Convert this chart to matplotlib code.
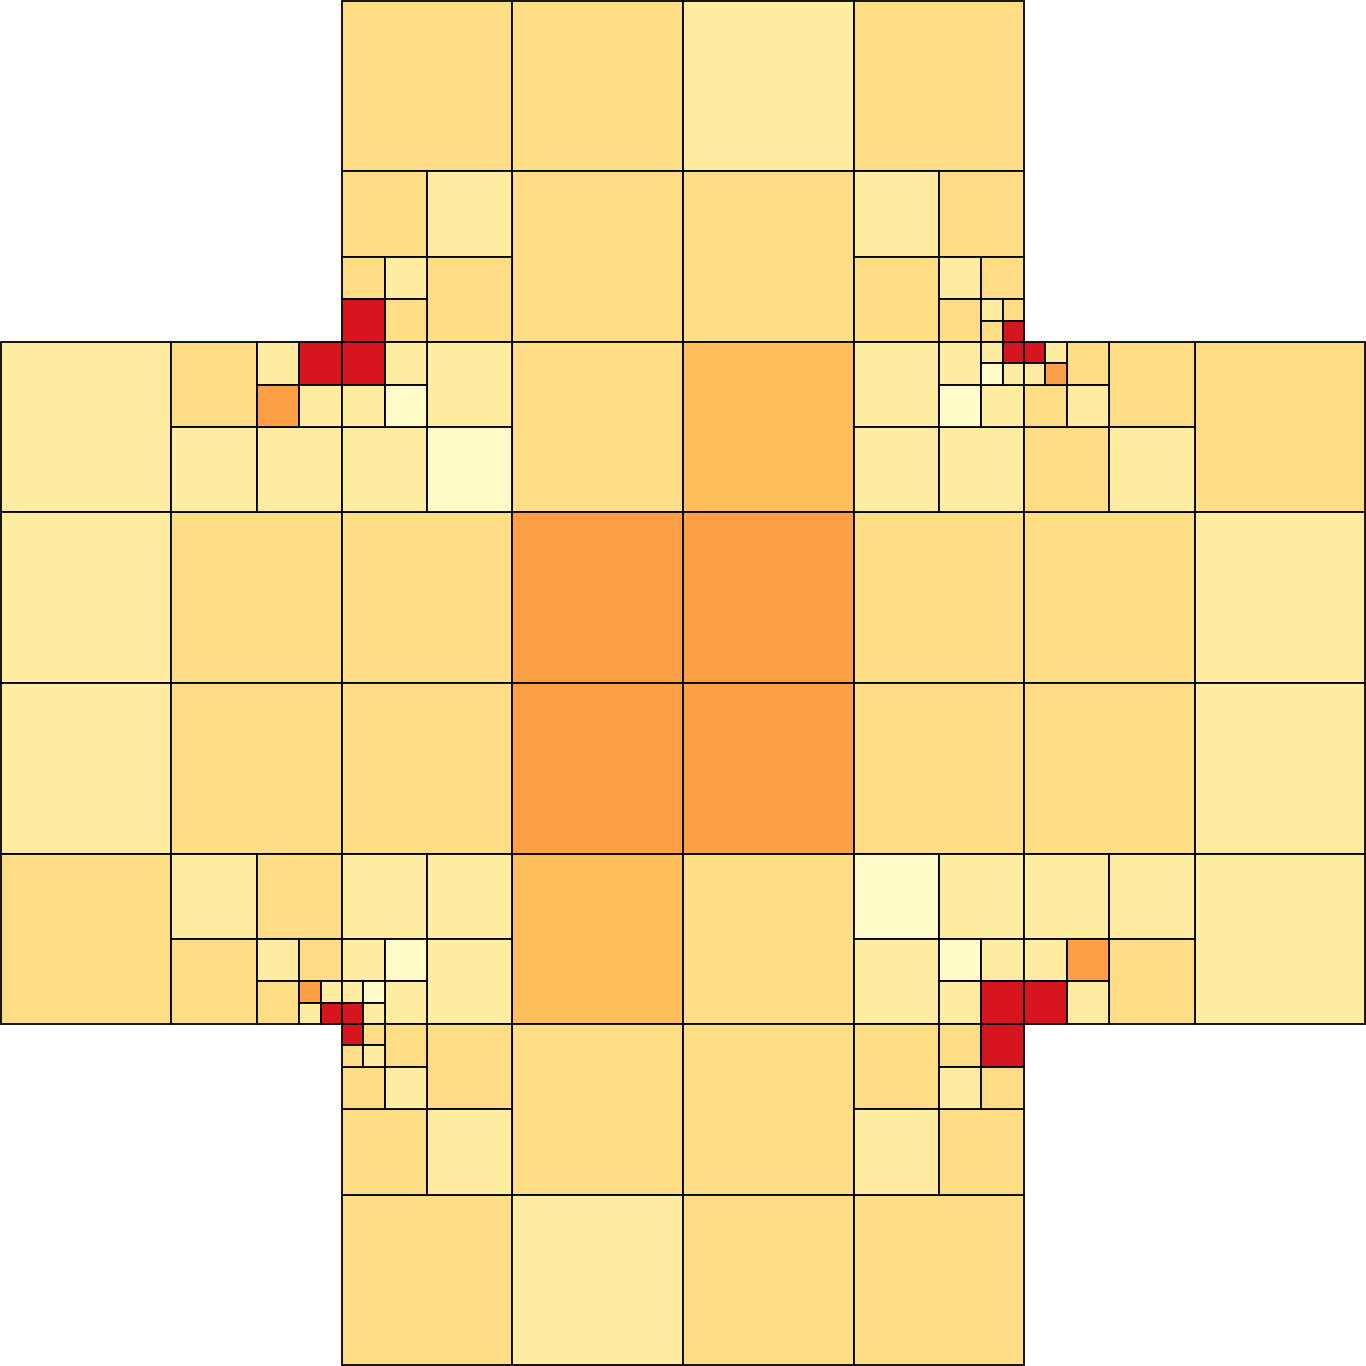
import matplotlib
matplotlib.use("Agg")
import matplotlib.pyplot as plt
from matplotlib.patches import Rectangle
from matplotlib.colors import ListedColormap

# error level colours (low -> high)
level_colors = ["#fffbc8", "#feeda1", "#fedd84", "#febe5b", "#fd9f45", "#d7151f"]
cmap = ListedColormap(level_colors)

# coarse 8x8 grid (row 0 = top); None = outside domain or refined further
coarse_levels = [
    [None, None, 2, 2, 1, 2, None, None],
    [None, None, None, 2, 2, None, None, None],
    [1, None, None, 2, 3, None, None, 2],
    [1, 2, 2, 4, 4, 2, 2, 1],
    [1, 2, 2, 4, 4, 2, 2, 1],
    [2, None, None, 3, 2, None, None, 1],
    [None, None, None, 2, 2, None, None, None],
    [None, None, 2, 1, 2, 2, None, None],
]
coarse_size = 8

# refined cells as (x, y, level), in units of 1/8 coarse cell
half_cells = [
    (16, 8, 2), (20, 8, 1), (20, 12, 2),
    (8, 16, 2), (8, 20, 1), (12, 20, 1),
    (20, 16, 1), (16, 20, 1), (20, 20, 0),
    (40, 8, 1), (44, 8, 2), (40, 12, 2),
    (40, 16, 1), (40, 20, 1), (44, 20, 1),
    (52, 16, 2), (48, 20, 2), (52, 20, 1),
    (8, 40, 1), (12, 40, 2), (8, 44, 2),
    (16, 40, 1), (20, 40, 1), (20, 44, 1),
    (20, 48, 2), (16, 52, 2), (20, 52, 1),
    (40, 40, 0), (44, 40, 1), (40, 44, 1),
    (48, 40, 1), (52, 40, 1), (52, 44, 2),
    (40, 48, 2), (40, 52, 1), (44, 52, 2),
]
quarter_cells = [
    (16, 12, 2), (18, 12, 1), (16, 14, 5), (18, 14, 2),
    (12, 16, 1), (14, 16, 5), (12, 18, 4), (14, 18, 1),
    (16, 16, 5), (18, 16, 1), (16, 18, 1), (18, 18, 0),
    (44, 12, 1), (46, 12, 2), (44, 14, 2),
    (44, 16, 1), (44, 18, 0), (46, 18, 1),
    (50, 16, 2), (48, 18, 2), (50, 18, 1),
    (12, 44, 1), (14, 44, 2), (12, 46, 2),
    (16, 44, 1), (18, 44, 0), (18, 46, 1),
    (18, 48, 2), (16, 50, 2), (18, 50, 1),
    (44, 44, 0), (46, 44, 1), (44, 46, 1), (46, 46, 5),
    (48, 44, 1), (50, 44, 4), (48, 46, 5), (50, 46, 1),
    (44, 48, 2), (46, 48, 5), (44, 50, 1), (46, 50, 2),
]
eighth_cells = [
    (46, 14, 1), (47, 14, 2), (46, 15, 2), (47, 15, 5),
    (46, 16, 1), (47, 16, 5), (46, 17, 0), (47, 17, 1),
    (48, 16, 5), (49, 16, 1), (48, 17, 1), (49, 17, 4),
    (14, 46, 4), (15, 46, 1), (14, 47, 1), (15, 47, 5),
    (16, 46, 1), (17, 46, 0), (16, 47, 5), (17, 47, 1),
    (16, 48, 5), (17, 48, 2), (16, 49, 2), (17, 49, 1),
]

fig = plt.figure(figsize=(13.66, 13.66), dpi=100)
ax = fig.add_axes([0, 0, 1, 1])


def add_cell(x, y, s, lev):
    ax.add_patch(Rectangle((x, y), s, s, facecolor=cmap(lev), edgecolor="black", linewidth=1.3))


for r, row in enumerate(coarse_levels):
    for c, lev in enumerate(row):
        if lev is not None:
            add_cell(c * coarse_size, r * coarse_size, coarse_size, lev)
for size, cells in [(4, half_cells), (2, quarter_cells), (1, eighth_cells)]:
    for x, y, lev in cells:
        add_cell(x, y, size, lev)

ax.set_xlim(-0.04, 64.04)
ax.set_ylim(64.04, -0.04)
ax.set_aspect("auto")
ax.axis("off")

plt.savefig("out.png", dpi=100)
